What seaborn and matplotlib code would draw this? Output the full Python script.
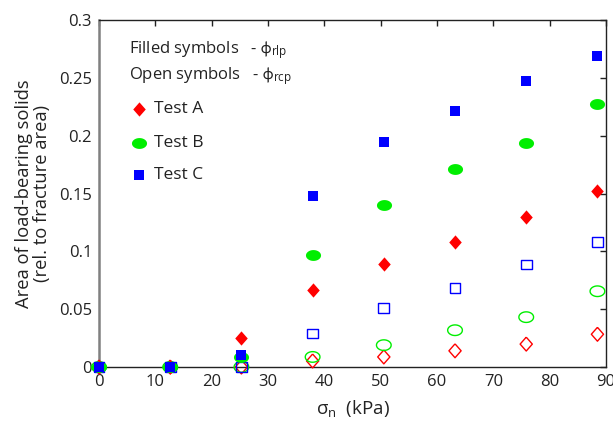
import numpy as np
import pandas as pd
import matplotlib
matplotlib.use("Agg")
import matplotlib.pyplot as plt
import seaborn as sns

# Normal stress levels (kPa)
sigma_n = [0.0, 12.64, 25.28, 37.92, 50.56, 63.2, 75.84, 88.48]

# Load-bearing solids area, filled symbols (phi_rlp)
rlp_a = [0.0, 0.0, 0.0248, 0.0669, 0.0887, 0.108, 0.1297, 0.152]
rlp_b = [0.0, 0.0, 0.0087, 0.0966, 0.140, 0.1716, 0.194, 0.2278]
rlp_c = [0.0, 0.0, 0.0108, 0.1478, 0.1946, 0.2211, 0.247, 0.2688]

# Load-bearing solids area, open symbols (phi_rcp)
rcp_a = [0.0, 0.0, 0.0, 0.0052, 0.0087, 0.014, 0.0198, 0.0283]
rcp_b = [0.0, 0.0, 0.0, 0.0087, 0.0189, 0.0318, 0.0431, 0.0655]
rcp_c = [0.0, 0.0, 0.0, 0.0288, 0.051, 0.0684, 0.0887, 0.108]

tests = ["Test A", "Test B", "Test C"]
colors = {"Test A": "#ff0000", "Test B": "#00ee00", "Test C": "#0000ff"}

x_ticks = [0, 10, 20, 30, 40, 50, 60, 70, 80, 90]
y_ticks = [0, 0.05, 0.1, 0.15, 0.2, 0.25, 0.3]
y_tick_labels = ["0", "0.05", "0.1", "0.15", "0.2", "0.25", "0.3"]

sns.set_theme(style="white")
plt.rcParams["font.family"] = ["Open Sans", "DejaVu Sans"]
plt.rcParams["mathtext.fontset"] = "custom"
plt.rcParams["mathtext.rm"] = "Open Sans"
plt.rcParams["mathtext.it"] = "Open Sans:italic"
plt.rcParams["mathtext.fallback"] = "stixsans"

TXT = "#222222"

# marker shapes
t = np.linspace(0, 2 * np.pi, 60)
ellipse = np.column_stack([np.cos(t), 0.72 * np.sin(t)])
diamond = np.array([[0, 1], [0.88, 0], [0, -1], [-0.88, 0], [0, 1]])
square = np.array([[-1, -0.9], [1, -0.9], [1, 0.9], [-1, 0.9], [-1, -0.9]])
shapes = {"Test A": (diamond, 105), "Test B": (ellipse, 118), "Test C": (square, 62)}

filled = pd.DataFrame({"sigma": sigma_n * 3, "area": rlp_a + rlp_b + rlp_c,
                       "test": np.repeat(tests, len(sigma_n))})
opened = pd.DataFrame({"sigma": sigma_n * 3, "area": rcp_a + rcp_b + rcp_c,
                       "test": np.repeat(tests, len(sigma_n))})

fig = plt.figure(figsize=(6.13, 4.22), dpi=100)
ax = fig.add_axes([99 / 613, 1 - 367 / 422, 507 / 613, 347 / 422])

for name in tests:
    mk, sz = shapes[name]
    sub = opened[opened["test"] == name]
    sns.scatterplot(data=sub, x="sigma", y="area", marker=mk, s=sz * 0.95,
                    fc="none", ec=colors[name], linewidth=1.0, ax=ax,
                    clip_on=False, zorder=3, legend=False)
for name in tests:
    mk, sz = shapes[name]
    sub = filled[filled["test"] == name]
    sns.scatterplot(data=sub, x="sigma", y="area", marker=mk, s=sz,
                    color=colors[name], linewidth=0, ax=ax,
                    clip_on=False, zorder=4, legend=False)

ax.set_xlim(0, 90)
ax.set_ylim(0, 0.3)
ax.set_xticks(x_ticks)
ax.set_xticklabels([str(v) for v in x_ticks])
ax.set_yticks(y_ticks)
ax.set_yticklabels(y_tick_labels)
ax.tick_params(direction="in", length=4, width=1, colors=TXT,
               labelcolor=TXT, labelsize=12, top=True, right=True, pad=5)
for side in ["top", "right", "bottom"]:
    ax.spines[side].set_color(TXT)
    ax.spines[side].set_linewidth(1.0)
ax.spines["left"].set_color("#808080")
ax.spines["left"].set_linewidth(1.8)

ax.set_xlabel("σ$_{\\mathrm{n}}$  (kPa)", fontsize=13.5, color=TXT, labelpad=5.5)
ax.set_ylabel("Area of load-bearing solids\n(rel. to fracture area)",
              fontsize=13.2, color=TXT, linespacing=1.0, labelpad=6)

def px(x, y):
    return ((x - 99) / 507, (367 - y) / 347)

ax.text(*px(129, 50), "Filled symbols   - $\\mathrm{\\phi}_{\\mathrm{rlp}}$",
        transform=ax.transAxes, fontsize=12, va="center", ha="left", color=TXT)
ax.text(*px(129, 76), "Open symbols   - $\\mathrm{\\phi}_{\\mathrm{rcp}}$",
        transform=ax.transAxes, fontsize=12, va="center", ha="left", color=TXT)
for name, yy in zip(tests, [109, 143, 175]):
    mk, sz = shapes[name]
    ax.scatter(*px(139, yy), marker=mk, s=sz, color=colors[name], linewidth=0,
               transform=ax.transAxes, zorder=5)
    ax.text(*px(154, yy), name, transform=ax.transAxes, fontsize=12.5,
            va="center", ha="left", color=TXT)

fig.savefig("out.png", dpi=100)
